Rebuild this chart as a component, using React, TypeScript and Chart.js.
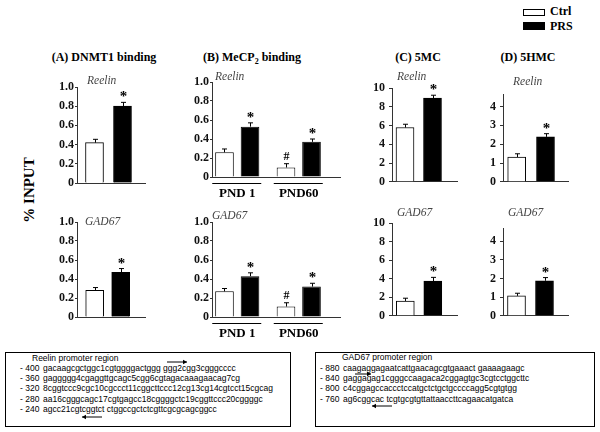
import React, { useEffect, useRef } from 'react';
import { Chart, registerables } from 'chart.js';
Chart.register(...registerables);

// ---------- data ----------
const conditions = ['Ctrl', 'PRS'];
const condColors = ['#ffffff', '#000000'];

// (A) DNMT1 binding
const dnmt1Reelin = [0.42, 0.80];
const dnmt1ReelinSem = [0.035, 0.04];
const dnmt1ReelinSig = ['', '*'];
const dnmt1Gad67 = [0.28, 0.47];
const dnmt1Gad67Sem = [0.03, 0.04];
const dnmt1Gad67Sig = ['', '*'];

// (B) MeCP2 binding
const pndGroups = ['PND 1', 'PND60'];
const mecp2ReelinCtrl = [0.26, 0.10];
const mecp2ReelinCtrlSem = [0.035, 0.04];
const mecp2ReelinPrs = [0.53, 0.37];
const mecp2ReelinPrsSem = [0.04, 0.03];
const mecp2Gad67Ctrl = [0.27, 0.11];
const mecp2Gad67CtrlSem = [0.03, 0.04];
const mecp2Gad67Prs = [0.43, 0.32];
const mecp2Gad67PrsSem = [0.035, 0.035];
const mecp2CtrlSig = ['', '#'];
const mecp2PrsSig = ['*', '*'];

// (C) 5MC
const fiveMcReelin = [5.8, 8.95];
const fiveMcReelinSem = [0.35, 0.3];
const fiveMcReelinSig = ['', '*'];
const fiveMcGad67 = [1.6, 3.75];
const fiveMcGad67Sem = [0.3, 0.4];
const fiveMcGad67Sig = ['', '*'];

// (D) 5HMC
const fiveHmcReelin = [1.32, 2.39];
const fiveHmcReelinSem = [0.17, 0.17];
const fiveHmcReelinSig = ['', '*'];
const fiveHmcGad67 = [1.07, 1.88];
const fiveHmcGad67Sem = [0.14, 0.17];
const fiveHmcGad67Sig = ['', '*'];

// tick values
const fractionTicks = [0, 0.2, 0.4, 0.6, 0.8, 1.0];
const mcTicks = [0, 2, 4, 6, 8, 10];
const hmcTicks = [0, 1, 2, 3, 4];

// promoter text
const reelinPromoterTitle = 'Reelin promoter region';
const reelinPositions = ['- 400', '- 360', '- 320', '- 280', '- 240'];
const reelinSeqs = [
  'gacaagcgctggc1cgtggggactggg ggg2cgg3cgggcccc',
  'gaggggg4cgaggttgcagc5cgg6cgtagacaaagaacag7cg',
  '8cggtccc9cgc10cgccct11cggcttccc12cg13cg14cgtcct15cgcag',
  'aa16cgggcagc17cgtgagcc18cggggctc19cggttccc20cggggc',
  'agcc21cgtcggtct ctggccgctctcgttcgcgcagcggcc',
];
const gadPromoterTitle = 'GAD67 promoter region';
const gadPositions = ['- 880', '- 840', '- 800', '- 760'];
const gadSeqs = [
  'caagaggagaatcattgaacagcgtgaaact gaaaagaagc',
  'gaggagag1cgggccaagaca2cggagtgc3cgtcctggcttc',
  'c4cggagccaccctccatgctctgctgccccagg5cgtgtgg',
  'ag6cggcac tcgtgcgtgttattaaccttcagaacatgatca',
];

// ---------- layout ----------
const Y_W = 34;
const PAD_T = 10;
const SERIF = '"Liberation Serif", "Times New Roman", serif';
const SANS = '"Liberation Sans", Arial, sans-serif';

type Spec = {
  axisX: number; yTop: number; y0: number; xEnd: number;
  firstOff: number; spacing: number; yMax: number; ticks: number[];
  fmt: (v: number) => string; labelPad: number; tickLen: number;
  values?: number[]; sems?: number[]; sig?: string[];
  ctrl?: number[]; ctrlSem?: number[]; prs?: number[]; prsSem?: number[];
  ctrlSig?: string[]; prsSig?: string[]; groups?: string[];
};

const fmtFrac = (v: number) => (v === 0 ? '0' : v.toFixed(1));
const fmtInt = (v: number) => String(v);

function BarPanel({ spec }: { spec: Spec }) {
  const ref = useRef<HTMLCanvasElement>(null);
  const padB = spec.groups ? 26 : 10;
  const left = Math.round(spec.axisX - Y_W);
  const top = Math.round(spec.yTop - PAD_T);
  const width = Math.round(Y_W + (spec.xEnd - spec.axisX) + 3);
  const height = Math.round(PAD_T + (spec.y0 - spec.yTop) + padB);

  useEffect(() => {
    const plotW = spec.xEnd - spec.axisX;
    const xMin = -spec.firstOff / spec.spacing;
    const xMax = xMin + plotW / spec.spacing;
    let datasets: any[];
    let sems: number[][];
    let sigs: string[][];
    if (spec.groups) {
      datasets = [
        {
          label: conditions[0],
          data: spec.groups.map((_, i) => ({ x: i, y: spec.ctrl![i] })),
          backgroundColor: condColors[0],
          borderColor: '#000', borderWidth: 1,
          categoryPercentage: 0.83, barPercentage: 0.73,
        },
        {
          label: conditions[1],
          data: spec.groups.map((_, i) => ({ x: i, y: spec.prs![i] })),
          backgroundColor: condColors[1],
          borderColor: '#000', borderWidth: 1,
          categoryPercentage: 0.83, barPercentage: 0.73,
        },
      ];
      sems = [spec.ctrlSem!, spec.prsSem!];
      sigs = [spec.ctrlSig!, spec.prsSig!];
    } else {
      datasets = [
        {
          label: 'value',
          data: conditions.map((_, i) => ({ x: i, y: spec.values![i] })),
          backgroundColor: condColors,
          borderColor: '#000', borderWidth: 1,
          barThickness: 18,
        },
      ];
      sems = [spec.sems!];
      sigs = [spec.sig!];
    }

    const overlay = {
      id: 'overlay',
      afterDatasetsDraw(chart: any) {
        const ctx = chart.ctx;
        const ys = chart.scales.y;
        ctx.save();
        ctx.strokeStyle = '#000';
        ctx.fillStyle = '#000';
        ctx.lineWidth = 1;
        chart.data.datasets.forEach((ds: any, di: number) => {
          const meta = chart.getDatasetMeta(di);
          meta.data.forEach((bar: any, i: number) => {
            const v = ds.data[i].y;
            const t = ys.getPixelForValue(v + sems[di][i]);
            const x = Math.round(bar.x) + 0.5;
            ctx.beginPath();
            ctx.moveTo(x, bar.y);
            ctx.lineTo(x, t);
            ctx.moveTo(x - 2.5, t);
            ctx.lineTo(x + 2.5, t);
            ctx.stroke();
            const s = sigs[di][i];
            if (s) {
              ctx.textAlign = 'center';
              ctx.textBaseline = 'alphabetic';
              if (s === '*') {
                ctx.font = `bold 15px ${SERIF}`;
                ctx.fillText(s, x, t - 1);
              } else {
                ctx.font = `bold 12px ${SERIF}`;
                ctx.fillText(s, x, t - 4);
              }
            }
          });
        });
        if (spec.groups) {
          const xs = chart.scales.x;
          const base = ys.getPixelForValue(0);
          spec.groups.forEach((lab, gi) => {
            const cx = xs.getPixelForValue(gi);
            ctx.beginPath();
            ctx.moveTo(cx - 25, Math.round(base + 6) + 0.5);
            ctx.lineTo(cx + 24, Math.round(base + 6) + 0.5);
            ctx.stroke();
            ctx.font = `bold 13px ${SERIF}`;
            ctx.textAlign = 'center';
            ctx.textBaseline = 'middle';
            ctx.fillText(lab, cx, base + 17);
          });
        }
        ctx.restore();
      },
    };

    const chart = new Chart(ref.current!, {
      type: 'bar',
      data: { datasets },
      options: {
        animation: false,
        responsive: false,
        maintainAspectRatio: false,
        layout: { padding: { top: PAD_T, bottom: padB, left: 0, right: 3 } },
        plugins: { legend: { display: false }, tooltip: { enabled: false } },
        scales: {
          x: {
            type: 'linear',
            offset: false,
            min: xMin,
            max: xMax,
            ticks: { display: false, stepSize: 1, includeBounds: false },
            grid: { display: false },
            border: { display: true, color: '#333', width: 1 },
            afterFit: (s: any) => { s.height = 0; },
          },
          y: {
            min: 0,
            max: spec.yMax,
            afterBuildTicks: (axis: any) => { axis.ticks = spec.ticks.map((v) => ({ value: v })); },
            afterFit: (s: any) => { s.width = Y_W; },
            ticks: {
              callback: (v: any) => spec.fmt(Number(v)),
              font: { family: 'Liberation Serif', size: 12, weight: 'bold' },
              color: '#111',
              padding: spec.labelPad,
              autoSkip: false,
            },
            grid: { drawOnChartArea: false, drawTicks: true, tickLength: spec.tickLen, color: '#333' },
            border: { display: true, color: '#333', width: 1 },
          },
        },
      } as any,
      plugins: [overlay as any],
    });
    return () => chart.destroy();
  }, []);

  return (
    <canvas
      ref={ref}
      width={width}
      height={height}
      style={{ position: 'absolute', left, top, width, height }}
    />
  );
}

const panels: Spec[] = [
  // A top
  { axisX: 77, yTop: 87, y0: 183, xEnd: 145, firstOff: 17.5, spacing: 28, yMax: 1, ticks: fractionTicks, fmt: fmtFrac, labelPad: 1, tickLen: 2,
    values: dnmt1Reelin, sems: dnmt1ReelinSem, sig: dnmt1ReelinSig },
  // A bottom
  { axisX: 77, yTop: 222, y0: 317, xEnd: 145, firstOff: 17.7, spacing: 26, yMax: 1, ticks: fractionTicks, fmt: fmtFrac, labelPad: 1, tickLen: 2,
    values: dnmt1Gad67, sems: dnmt1Gad67Sem, sig: dnmt1Gad67Sig },
  // B top
  { axisX: 212, yTop: 82, y0: 177, xEnd: 340, firstOff: 25.25, spacing: 61.5, yMax: 1, ticks: fractionTicks, fmt: fmtFrac, labelPad: 1, tickLen: 2,
    groups: pndGroups, ctrl: mecp2ReelinCtrl, ctrlSem: mecp2ReelinCtrlSem, prs: mecp2ReelinPrs, prsSem: mecp2ReelinPrsSem, ctrlSig: mecp2CtrlSig, prsSig: mecp2PrsSig },
  // B bottom
  { axisX: 212, yTop: 222, y0: 317, xEnd: 340, firstOff: 25.25, spacing: 61.5, yMax: 1, ticks: fractionTicks, fmt: fmtFrac, labelPad: 1, tickLen: 2,
    groups: pndGroups, ctrl: mecp2Gad67Ctrl, ctrlSem: mecp2Gad67CtrlSem, prs: mecp2Gad67Prs, prsSem: mecp2Gad67PrsSem, ctrlSig: mecp2CtrlSig, prsSig: mecp2PrsSig },
  // C top
  { axisX: 392, yTop: 87, y0: 183, xEnd: 457, firstOff: 13, spacing: 27.5, yMax: 10, ticks: mcTicks, fmt: fmtInt, labelPad: 4, tickLen: 3,
    values: fiveMcReelin, sems: fiveMcReelinSem, sig: fiveMcReelinSig },
  // C bottom
  { axisX: 392, yTop: 222, y0: 317, xEnd: 457, firstOff: 13.3, spacing: 27.5, yMax: 10, ticks: mcTicks, fmt: fmtInt, labelPad: 4, tickLen: 3,
    values: fiveMcGad67, sems: fiveMcGad67Sem, sig: fiveMcGad67Sig },
  // D top
  { axisX: 503, yTop: 93, y0: 183, xEnd: 568, firstOff: 13.7, spacing: 28.8, yMax: 4.66, ticks: hmcTicks, fmt: fmtInt, labelPad: 4, tickLen: 3,
    values: fiveHmcReelin, sems: fiveHmcReelinSem, sig: fiveHmcReelinSig },
  // D bottom
  { axisX: 503, yTop: 227, y0: 317, xEnd: 568, firstOff: 13.5, spacing: 28, yMax: 4.7, ticks: hmcTicks, fmt: fmtInt, labelPad: 4, tickLen: 3,
    values: fiveHmcGad67, sems: fiveHmcGad67Sem, sig: fiveHmcGad67Sig },
];

function Txt({ x, cy, size, children, bold, italic, color, family, center }: any) {
  return (
    <div
      style={{
        position: 'absolute',
        left: x,
        top: cy - size / 2,
        fontSize: size,
        lineHeight: `${size}px`,
        fontFamily: family || SERIF,
        fontWeight: bold ? 'bold' : 'normal',
        fontStyle: italic ? 'italic' : 'normal',
        color: color || '#000',
        whiteSpace: 'nowrap',
        transform: center ? 'translateX(-50%)' : undefined,
      }}
    >
      {children}
    </div>
  );
}

function Arrow({ x1, x2, y }: { x1: number; x2: number; y: number }) {
  const right = x2 > x1;
  const minX = Math.min(x1, x2) - 2;
  const w = Math.abs(x2 - x1) + 4;
  const lx1 = x1 - minX;
  const lx2 = x2 - minX;
  const d = right ? -4 : 4;
  return (
    <svg style={{ position: 'absolute', left: minX, top: y - 4 }} width={w} height={8}>
      <line x1={lx1} y1={4} x2={lx2} y2={4} stroke="#000" strokeWidth={1} />
      <polygon points={`${lx2},4 ${lx2 + d},1.8 ${lx2 + d},6.2`} fill="#000" />
    </svg>
  );
}

export default function App() {
  const geneColor = '#444';
  return (
    <div style={{ position: 'fixed', left: 0, top: 0, width: 600, height: 432, background: '#fff', overflow: 'hidden' }}>
      {/* legend */}
      <div style={{ position: 'absolute', left: 523, top: 9, width: 20, height: 5, border: '1px solid #000', background: '#fff' }} />
      <div style={{ position: 'absolute', left: 523, top: 22, width: 22, height: 8, background: '#000' }} />
      <Txt x={550} cy={11} size={12} bold>Ctrl</Txt>
      <Txt x={550} cy={26} size={12} bold>PRS</Txt>

      {/* panel titles */}
      <Txt x={104} cy={57} size={12} bold center>(A) DNMT1 binding</Txt>
      <Txt x={203} cy={57} size={12} bold>
        (B) MeCP<sub style={{ fontSize: 8, verticalAlign: -3, lineHeight: 0 }}>2</sub> binding
      </Txt>
      <Txt x={418} cy={57} size={12} bold center>(C) 5MC</Txt>
      <Txt x={528} cy={57} size={12} bold center>(D) 5HMC</Txt>

      {/* y title */}
      <div
        style={{
          position: 'absolute', left: 29, top: 190, transform: 'translate(-50%, -50%) rotate(-90deg)',
          fontFamily: SERIF, fontWeight: 'bold', fontSize: 15, whiteSpace: 'nowrap', lineHeight: '15px',
        }}
      >
        % INPUT
      </div>

      {panels.map((p, i) => (
        <BarPanel key={i} spec={p} />
      ))}

      {/* gene labels */}
      <Txt x={87} cy={81} size={11.5} italic color={geneColor}>Reelin</Txt>
      <Txt x={85} cy={222} size={11.5} italic color={geneColor}>GAD67</Txt>
      <Txt x={215} cy={77} size={11.5} italic color={geneColor}>Reelin</Txt>
      <Txt x={212} cy={216} size={11.5} italic color={geneColor}>GAD67</Txt>
      <Txt x={397} cy={77} size={11.5} italic color={geneColor}>Reelin</Txt>
      <Txt x={397} cy={213} size={11.5} italic color={geneColor}>GAD67</Txt>
      <Txt x={513} cy={82} size={11.5} italic color={geneColor}>Reelin</Txt>
      <Txt x={508} cy={213} size={11.5} italic color={geneColor}>GAD67</Txt>

      {/* promoter boxes */}
      <div style={{ position: 'absolute', left: 5, top: 352, width: 284, height: 73, border: '1px solid #000' }} />
      <Txt x={32} cy={358} size={8.5} family={SANS}>{reelinPromoterTitle}</Txt>
      {reelinPositions.map((p, i) => (
        <React.Fragment key={p}>
          <Txt x={20} cy={368.3 + i * 10.2} size={8.5} family={SANS}>{p}</Txt>
          <Txt x={43} cy={368.3 + i * 10.2} size={8.5} family={SANS}>{reelinSeqs[i]}</Txt>
        </React.Fragment>
      ))}
      <Arrow x1={167} x2={187} y={362} />
      <Arrow x1={102} x2={82} y={417} />

      <div style={{ position: 'absolute', left: 315, top: 352, width: 278, height: 73, border: '1px solid #000' }} />
      <Txt x={342} cy={357} size={8.5} family={SANS}>{gadPromoterTitle}</Txt>
      {gadPositions.map((p, i) => (
        <React.Fragment key={p}>
          <Txt x={320} cy={368.3 + i * 10.2} size={8.5} family={SANS}>{p}</Txt>
          <Txt x={343} cy={368.3 + i * 10.2} size={8.5} family={SANS}>{gadSeqs[i]}</Txt>
        </React.Fragment>
      ))}
      <Arrow x1={355} x2={371} y={374} />
      <Arrow x1={392} x2={372} y={406} />
    </div>
  );
}
